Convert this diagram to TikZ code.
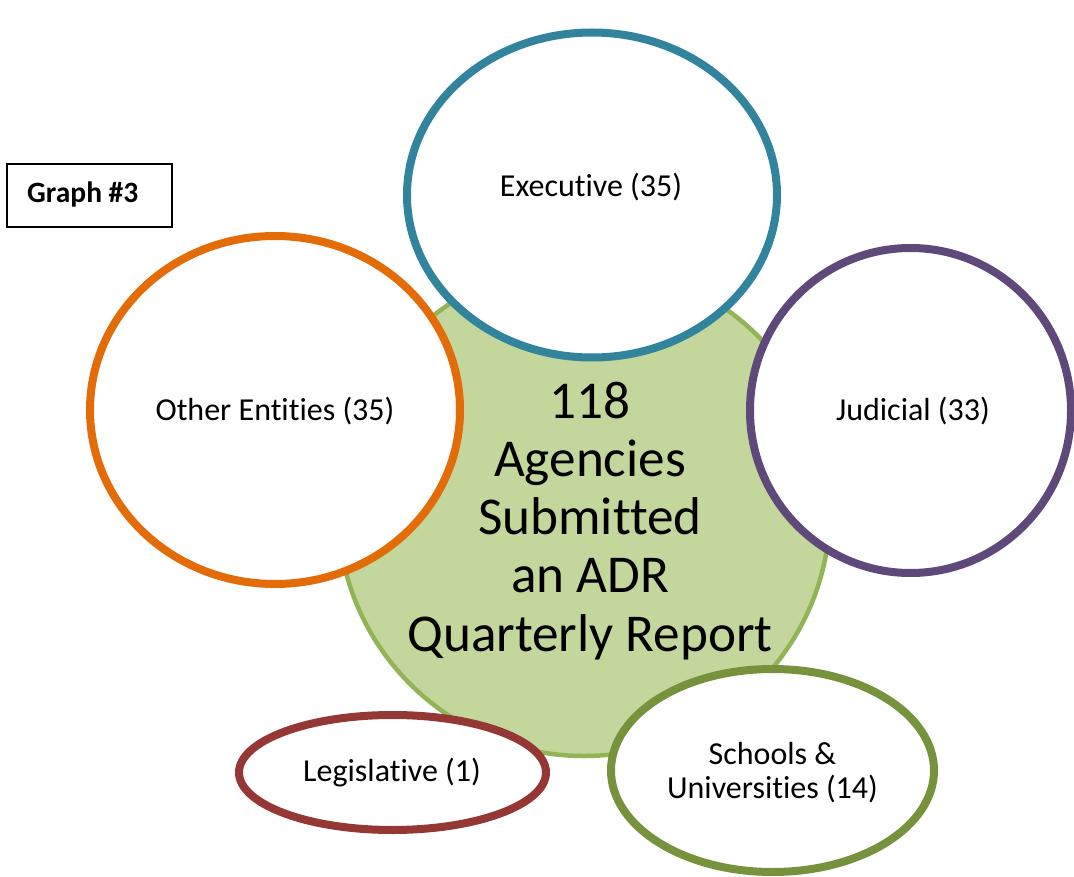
\documentclass[tikz,border=0pt]{standalone}
\usepackage{fontspec}
\setmainfont{Carlito}[Ligatures=NoCommon]
\usetikzlibrary{shapes.geometric}

\definecolor{hubfill}{HTML}{C3D69B}
\definecolor{hubline}{HTML}{93B456}
\definecolor{execcol}{HTML}{31849B}
\definecolor{othercol}{HTML}{E36C09}
\definecolor{judcol}{HTML}{5F497A}
\definecolor{legcol}{HTML}{953734}
\definecolor{schoolcol}{HTML}{76923C}

\tikzset{
  branch/.style={ellipse, draw=#1, fill=white, line width=8pt, inner sep=0pt},
  smalltext/.style={font={\fontsize{32}{34}\selectfont}, inner sep=0pt},
}

\begin{document}
\begin{tikzpicture}[x=1pt, y=-1pt]
  \useasboundingbox (0,0) rectangle (1074,877);

  % central hub
  \node (hub) [circle, draw=hubline, fill=hubfill, line width=4.5pt,
               minimum size=492pt, inner sep=0pt] at (584,510) {};
  \node (hubtext) [anchor=north, inner sep=0pt, align=center,
                   font={\fontsize{53.2}{58.3}\selectfont}] at (590,381.5)
    {118\\Agencies\\Submitted\\an ADR\\Quarterly Report};

  % branches
  \node (exec)   [branch=execcol,   minimum width=370pt, minimum height=325pt] at (592,195) {};
  \node (other)  [branch=othercol,  minimum width=370pt, minimum height=348pt] at (275,410) {};
  \node (jud)    [branch=judcol,    minimum width=321pt, minimum height=325pt] at (910.5,410.5) {};
  \node (leg)    [branch=legcol,    minimum width=307pt, minimum height=115pt] at (392.5,772.5) {};
  \node (school) [branch=schoolcol, minimum width=323pt, minimum height=203pt] at (772.5,770.5) {};

  \node (execlabel)   [smalltext, anchor=base] at (591,196.5) {Executive (35)};
  \node (otherlabel)  [smalltext, anchor=base] at (275,420) {Other Entities (35)};
  \node (judlabel)    [smalltext, anchor=base] at (913,420) {Judicial (33)};
  \node (leglabel)    [smalltext, anchor=base] at (392,781) {Legislative (1)};
  \node (schoollabel) [smalltext, anchor=north, align=center] at (772.5,742)
    {Schools \&\\Universities (14)};

  % caption box
  \node (graphbox) [draw=black, line width=2pt, minimum width=165pt,
                    minimum height=63pt, inner sep=0pt] at (89.5,195.5) {};
  \node (graphlabel) [anchor=base west, inner sep=0pt,
                      font={\fontsize{29.5}{32}\selectfont\bfseries}] at (27,203) {Graph \#3};
\end{tikzpicture}
\end{document}
